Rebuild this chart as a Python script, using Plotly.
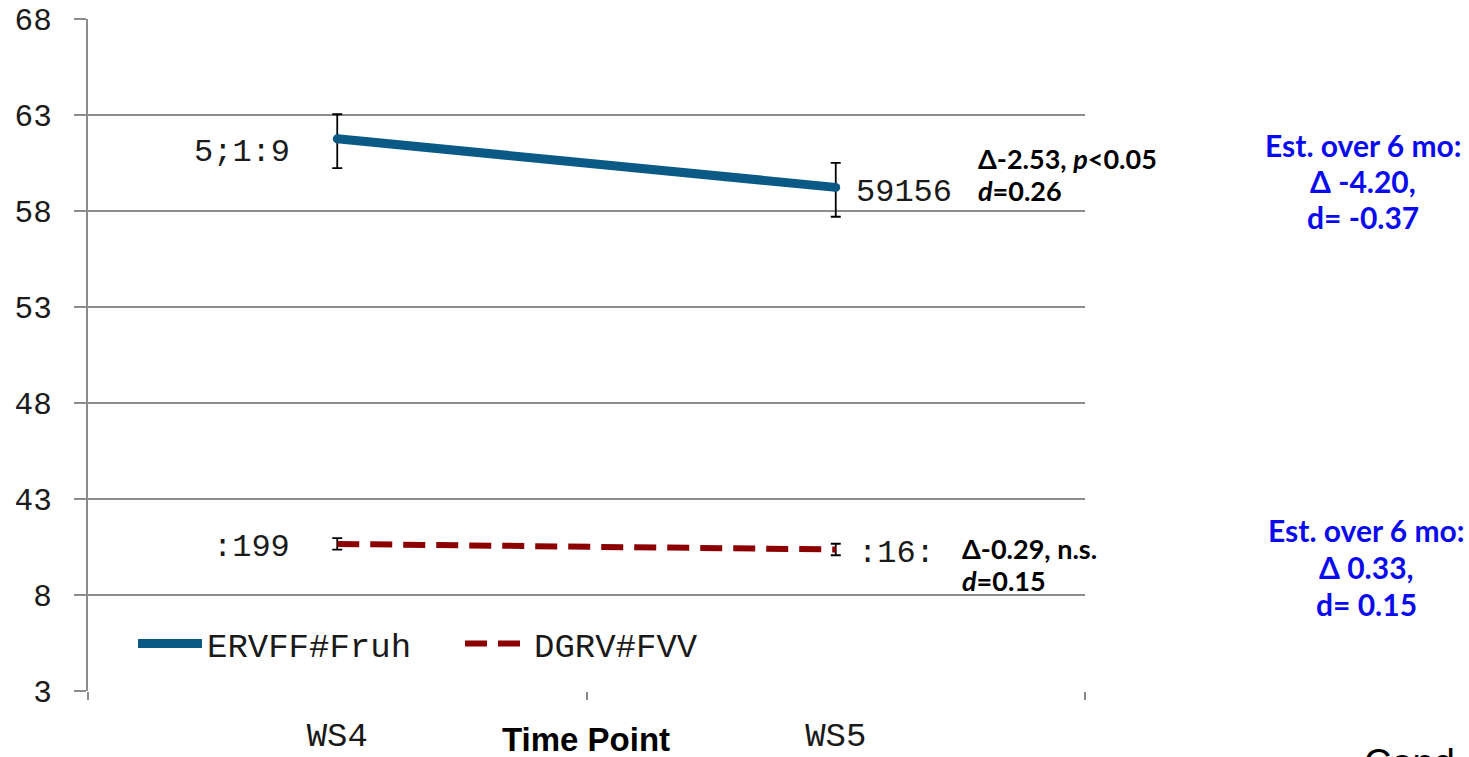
import plotly.graph_objects as go

# ---- data (as shown in the reference) ----
categories = ["WS4", "WS5"]
boscc_name = "ERVFF#Fruh"
ados_name = "DGRV#FVV"
boscc_values = [28.76, 26.23]
ados_values = [7.66, 7.37]
boscc_err_plus = [1.28, 1.28]
boscc_err_minus = [1.53, 1.53]
ados_err_plus = [0.3, 0.3]
ados_err_minus = [0.3, 0.3]
boscc_labels = ["5;1:9", "59156"]
ados_labels = [":199", ":16:"]
ytick_vals = [0, 5, 10, 15, 20, 25, 30, 35]
ytick_text = ["3", "8", "43", "48", "53", "58", "63", "68"]
boscc_stats = ["<b>Δ-2.53, <i>p</i>&lt;0.05</b>", "<b><i>d</i>=0.26</b>"]
ados_stats = ["<b>Δ-0.29, n.s.</b>", "<b><i>d</i>=0.15</b>"]
boscc_est = ["<b>Est. over 6 mo:</b>", "<b>Δ -4.20,</b>", "<b>d= -0.37</b>"]
ados_est = ["<b>Est. over 6 mo:</b>", "<b>Δ 0.33,</b>", "<b>d= 0.15</b>"]

W, H = 1469, 757
L, R, T, B = 88, 1085, 19, 691


def px(x):
    return (x - L) / (R - L)


def py(y):
    return (B - y) / (B - T)


BLUE_LINE = "#0B5A86"
RED_LINE = "#8B0000"
MONO = "Liberation Mono, Courier New, monospace"
CAL = "Lato, Open Sans, sans-serif"
ARIAL = "Liberation Sans, Arial, sans-serif"

fig = go.Figure()
fig.add_trace(go.Scatter(
    x=categories, y=boscc_values, name=boscc_name, mode="lines+markers",
    line=dict(color=BLUE_LINE, width=9),
    marker=dict(size=9, color=BLUE_LINE),
    error_y=dict(type="data", symmetric=False, array=boscc_err_plus,
                 arrayminus=boscc_err_minus, color="black", thickness=1.8, width=5),
))
fig.add_trace(go.Scatter(
    x=categories, y=ados_values, name=ados_name, mode="lines",
    line=dict(color=RED_LINE, width=6, dash="22px,11px"),
    error_y=dict(type="data", symmetric=False, array=ados_err_plus,
                 arrayminus=ados_err_minus, color="black", thickness=1.8, width=5),
))

# data labels
label_specs = [
    (categories[0], boscc_values[0], boscc_labels[0], "right", -45, -14),
    (categories[1], boscc_values[1], boscc_labels[1], "left", 18, -5),
    (categories[0], ados_values[0], ados_labels[0], "right", -45, -4),
    (categories[1], ados_values[1], ados_labels[1], "left", 20, -4),
]
for xv, yv, txt, anc, xs, ys in label_specs:
    fig.add_annotation(x=xv, y=yv, xref="x", yref="y", text=txt, showarrow=False,
                       xanchor=anc, yanchor="middle", xshift=xs, yshift=ys,
                       font=dict(family=MONO, size=32, color="#1a1a1a"))

# statistics annotations (one per line)
for txt, yy in zip(boscc_stats, [158, 190]):
    fig.add_annotation(x=px(976), y=py(yy), xref="paper", yref="paper", text=txt,
                       showarrow=False, xanchor="left", yanchor="middle",
                       font=dict(family=CAL, size=27, color="black"))
for txt, yy in zip(ados_stats, [548, 580]):
    fig.add_annotation(x=px(960), y=py(yy), xref="paper", yref="paper", text=txt,
                       showarrow=False, xanchor="left", yanchor="middle",
                       font=dict(family=CAL, size=27, color="black"))
for txt, yy in zip(boscc_est, [145, 181, 217]):
    fig.add_annotation(x=px(1363), y=py(yy), xref="paper", yref="paper", text=txt,
                       showarrow=False, xanchor="center", yanchor="middle",
                       font=dict(family=CAL, size=30, color="#0A0AF0"))
for txt, yy in zip(ados_est, [530, 567, 604]):
    fig.add_annotation(x=px(1366), y=py(yy), xref="paper", yref="paper", text=txt,
                       showarrow=False, xanchor="center", yanchor="middle",
                       font=dict(family=CAL, size=30, color="#0A0AF0"))

fig.add_annotation(x=px(586), y=py(739), xref="paper", yref="paper",
                   text="<b>Time Point</b>", showarrow=False,
                   xanchor="center", yanchor="middle",
                   font=dict(family=ARIAL, size=33, color="black"))
fig.add_annotation(x=px(1362), y=py(740), xref="paper", yref="paper",
                   text="Cond", showarrow=False, xanchor="left", yanchor="top",
                   font=dict(family=ARIAL, size=38, color="black"))

fig.update_layout(
    width=W, height=H,
    margin=dict(l=L, r=W - R, t=T, b=H - B, autoexpand=False),
    paper_bgcolor="white", plot_bgcolor="white",
    showlegend=True,
    legend=dict(orientation="h", x=px(133), y=py(644), xanchor="left", yanchor="middle",
                font=dict(family=MONO, size=34, color="#1a1a1a"),
                bgcolor="rgba(0,0,0,0)", itemwidth=64,
                entrywidth=248, entrywidthmode="pixels"),
    xaxis=dict(type="category", range=[-0.5, 1.5], tickson="boundaries",
               ticks="outside", ticklen=8, tickcolor="#888888", tickwidth=2,
               showline=False, showgrid=False, zeroline=False, automargin=False,
               tickfont=dict(family=MONO, size=34, color="#1a1a1a"),
               ticklabelstandoff=20),
    yaxis=dict(range=[0, 35], tickvals=ytick_vals, ticktext=ytick_text,
               showgrid=True, gridcolor="#8c8c8c", gridwidth=2,
               ticks="outside", ticklen=12, tickcolor="#8c8c8c", tickwidth=2,
               showline=True, linecolor="#8c8c8c", linewidth=2,
               zeroline=False, automargin=False,
               tickfont=dict(family=MONO, size=31, color="#1a1a1a"),
               ticklabelstandoff=16),
)

fig.write_html("out.html")
